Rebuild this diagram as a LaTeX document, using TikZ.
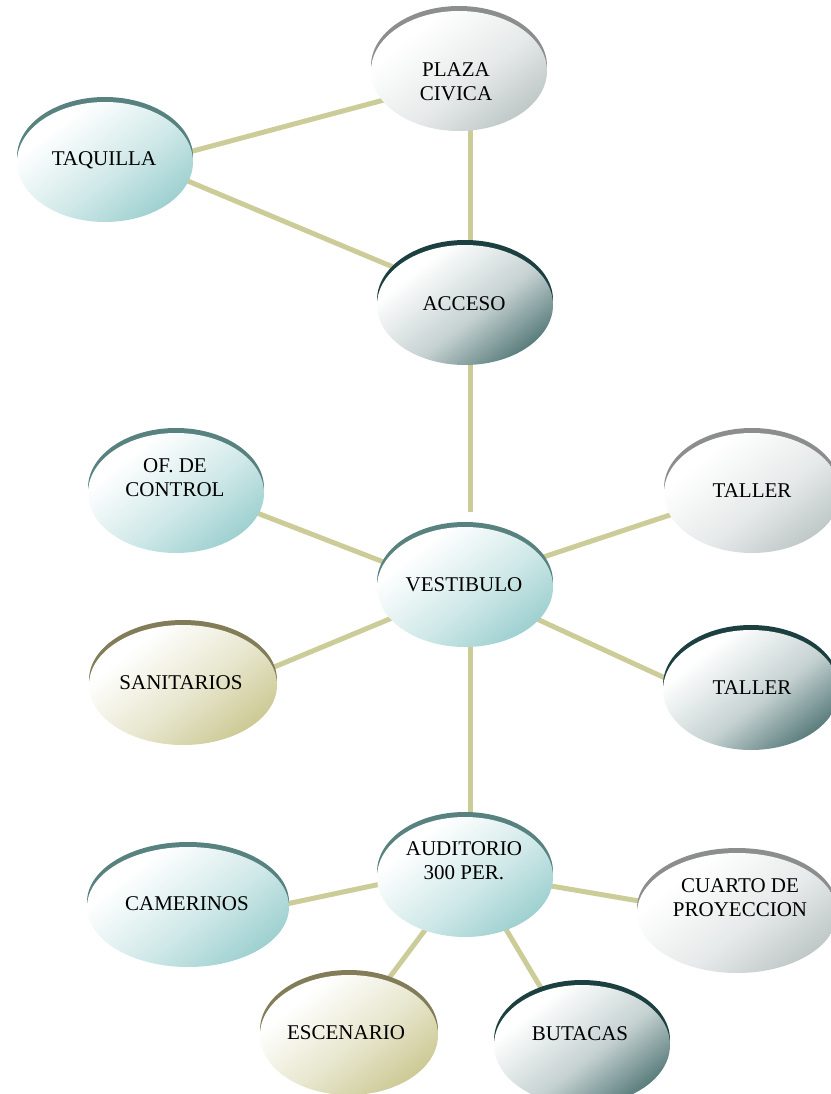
\documentclass[tikz,border=0pt]{standalone}
\usepackage{fontspec}
\setmainfont{Liberation Serif}
\usetikzlibrary{shapes.geometric,backgrounds}
\definecolor{rimG}{RGB}{140,142,142}
\definecolor{fG}{RGB}{185,194,194}
\definecolor{rimT}{RGB}{88,130,128}
\definecolor{fT}{RGB}{150,204,204}
\definecolor{rimD}{RGB}{28,64,64}
\definecolor{fD}{RGB}{62,102,102}
\definecolor{rimO}{RGB}{130,125,88}
\definecolor{fO}{RGB}{200,197,140}
\definecolor{connc}{RGB}{204,204,153}
\pgfdeclareverticalshading{shG}{100bp}{color(0bp)=(fG);color(22bp)=(fG);color(45bp)=(fG!35!white);color(70bp)=(white);color(100bp)=(white)}
\pgfdeclareverticalshading{shT}{100bp}{color(0bp)=(fT);color(22bp)=(fT);color(45bp)=(fT!45!white);color(70bp)=(white);color(100bp)=(white)}
\pgfdeclareverticalshading{shD}{100bp}{color(0bp)=(fD);color(20bp)=(fD);color(45bp)=(fD!30!white);color(70bp)=(white);color(100bp)=(white)}
\pgfdeclareverticalshading{shO}{100bp}{color(0bp)=(fO);color(22bp)=(fO);color(45bp)=(fO!45!white);color(70bp)=(white);color(100bp)=(white)}
\tikzset{
  rimnode/.style={ellipse, inner sep=0pt, outer sep=0pt, minimum height=120pt},
  bodynode/.style={ellipse, inner sep=0pt, outer sep=0pt, minimum height=120pt, shade, shading angle=38},
  lbl/.style={font=\fontsize{21}{24}\selectfont, align=center, inner sep=0pt, text=black},
  conn/.style={draw=connc, line width=5pt, shorten <=-3pt, shorten >=-3pt}
}
\newcommand\bubble[5]{%
  \node[rimnode, fill=rim#5, minimum width=2*#4] (#1-rim) at (#2,#3-5) {};
  \node[bodynode, shading=sh#5, minimum width=2*#4] (#1) at (#2,#3) {};
}
\begin{document}
\begin{tikzpicture}[x=1pt,y=-1pt]
\useasboundingbox (0,0) rectangle (830,1094);
\bubble{plaza}{459}{71}{88}{G}
\bubble{taq}{105}{162}{88}{T}
\bubble{acceso}{465}{305}{88}{D}
\bubble{of}{176}{493}{88}{T}
\bubble{tal1}{752}{493}{88}{G}
\bubble{vest}{465}{587}{88}{T}
\bubble{san}{183}{685}{94}{O}
\bubble{tal2}{751}{690}{88}{D}
\bubble{aud}{465}{877}{88}{T}
\bubble{cam}{188}{907}{101}{T}
\bubble{cua}{737}{913}{100}{G}
\bubble{esc}{349}{1035}{89}{O}
\bubble{but}{582}{1045}{88}{D}

\node[lbl] (plaza-t) at (456,82) {PLAZA\\CIVICA};
\node[lbl] (taq-t) at (104,160) {TAQUILLA};
\node[lbl] (acceso-t) at (464,304) {ACCESO};
\node[lbl] (of-t) at (175,478) {OF. DE\\CONTROL};
\node[lbl] (tal1-t) at (752,491) {TALLER};
\node[lbl] (vest-t) at (464,585) {VESTIBULO};
\node[lbl] (san-t) at (181,683) {SANITARIOS};
\node[lbl] (tal2-t) at (752,688) {TALLER};
\node[lbl] (aud-t) at (464,861) {AUDITORIO\\300 PER.};
\node[lbl] (cam-t) at (187,904) {CAMERINOS};
\node[lbl] (cua-t) at (740,898) {CUARTO DE\\PROYECCION};
\node[lbl] (esc-t) at (346,1033) {ESCENARIO};
\node[lbl] (but-t) at (580,1034) {BUTACAS};

\begin{scope}[on background layer]
\draw[conn] (taq.7) -- (plaza.201);
\draw[conn] (taq.-13) -- (acceso.152);
\draw[conn] ([xshift=11pt]plaza.south) -- ([xshift=5pt]acceso.north);
\draw[conn, shorten >=0pt] ([xshift=5pt]acceso.south) -- ([xshift=5pt,yshift=15pt]vest.north);
\draw[conn] (of.-14) -- (vest.163);
\draw[conn] (vest.21) -- (tal1.195);
\draw[conn] (vest.203) -- (san.11);
\draw[conn] (vest.-24) -- (tal2.172);
\draw[conn] ([xshift=5pt]vest.south) -- ([xshift=5pt]aud.north);
\draw[conn] (aud.185) -- (cam.2);
\draw[conn] (aud.-6) -- (cua.173);
\draw[conn] (aud.233) -- (esc.55);
\draw[conn] (aud.-52) -- (but.126);
\end{scope}
\end{tikzpicture}
\end{document}
